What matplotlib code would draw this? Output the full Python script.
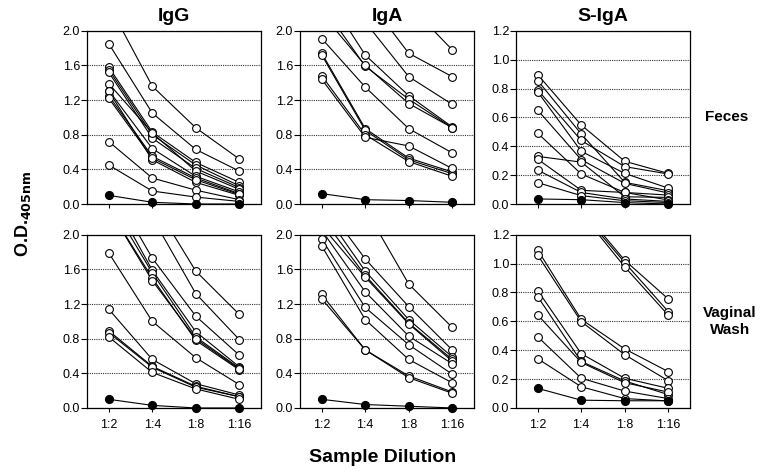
import numpy as np
import matplotlib
matplotlib.use('Agg')
import matplotlib.pyplot as plt

plt.rcParams['font.family'] = ['Liberation Sans', 'DejaVu Sans']

dilutions = ['1:2', '1:4', '1:8', '1:16']
col_titles = ['IgG', 'IgA', 'S-IgA']
row_labels = ['Feces', 'Vaginal\nWash']

# values above the y-limit are lines that start off the top of the panel
igg_feces = [
    [2.30, 1.36, 0.88, 0.52],
    [1.85, 1.05, 0.63, 0.38],
    [1.58, 0.83, 0.48, 0.25],
    [1.55, 0.80, 0.45, 0.21],
    [1.52, 0.76, 0.41, 0.19],
    [1.39, 0.82, 0.38, 0.17],
    [1.31, 0.64, 0.32, 0.14],
    [1.25, 0.55, 0.30, 0.12],
    [1.30, 0.51, 0.25, 0.10],
    [1.22, 0.53, 0.28, 0.11],
    [0.72, 0.30, 0.16, 0.05],
    [0.45, 0.15, 0.08, 0.03],
]
igg_feces_ctrl = [0.10, 0.02, 0.0, 0.0]

iga_feces = [
    [2.50, 1.72, 1.25, 0.89],
    [2.30, 1.59, 1.21, 0.88],
    [1.91, 1.35, 0.87, 0.59],
    [1.74, 0.87, 0.53, 0.37],
    [1.72, 0.85, 0.51, 0.35],
    [1.48, 0.80, 0.49, 0.32],
    [1.44, 0.77, 0.67, 0.41],
    [2.90, 2.40, 1.74, 1.47],
    [3.20, 2.80, 2.30, 1.78],
    [2.70, 2.10, 1.47, 1.15],
    [2.20, 1.60, 1.16, 0.88],
]
iga_feces_ctrl = [0.12, 0.05, 0.04, 0.02]

siga_feces = [
    [0.896, 0.547, 0.296, 0.212],
    [0.855, 0.485, 0.150, 0.092],
    [0.790, 0.440, 0.259, 0.208],
    [0.776, 0.365, 0.212, 0.110],
    [0.650, 0.307, 0.143, 0.076],
    [0.490, 0.208, 0.080, 0.062],
    [0.330, 0.290, 0.050, 0.046],
    [0.310, 0.095, 0.080, 0.028],
    [0.235, 0.080, 0.035, 0.018],
    [0.148, 0.058, 0.023, 0.010],
]
siga_feces_ctrl = [0.035, 0.030, 0.010, 0.0]

igg_vag = [
    [1.79, 1.00, 0.58, 0.27],
    [1.14, 0.56, 0.28, 0.15],
    [0.89, 0.48, 0.25, 0.13],
    [0.87, 0.47, 0.24, 0.13],
    [0.82, 0.41, 0.22, 0.10],
    [2.60, 1.73, 1.06, 0.61],
    [2.50, 1.59, 0.88, 0.475],
    [2.40, 1.56, 0.82, 0.46],
    [2.30, 1.50, 0.78, 0.44],
    [2.30, 1.47, 0.80, 0.45],
    [3.20, 2.40, 1.58, 1.08],
    [3.00, 2.20, 1.32, 0.79],
]
igg_vag_ctrl = [0.10, 0.03, 0.0, 0.0]

iga_vag = [
    [2.80, 2.30, 1.43, 0.93],
    [2.40, 1.72, 1.17, 0.67],
    [2.30, 1.58, 1.02, 0.59],
    [2.20, 1.53, 0.98, 0.56],
    [2.10, 1.51, 0.97, 0.54],
    [2.05, 1.34, 0.83, 0.51],
    [1.95, 1.16, 0.73, 0.39],
    [1.87, 1.02, 0.56, 0.29],
    [1.31, 0.67, 0.37, 0.185],
    [1.26, 0.67, 0.35, 0.17],
]
iga_vag_ctrl = [0.10, 0.04, 0.02, 0.0]

siga_vag = [
    [1.90, 1.38, 1.023, 0.755],
    [1.85, 1.36, 1.007, 0.668],
    [1.80, 1.35, 0.977, 0.643],
    [1.093, 0.614, 0.409, 0.252],
    [1.058, 0.598, 0.369, 0.189],
    [0.813, 0.376, 0.206, 0.136],
    [0.771, 0.322, 0.187, 0.093],
    [0.645, 0.315, 0.175, 0.110],
    [0.493, 0.206, 0.117, 0.065],
    [0.341, 0.147, 0.065, 0.049],
]
siga_vag_ctrl = [0.136, 0.054, 0.050, 0.050]

panels = [
    [(igg_feces, igg_feces_ctrl), (iga_feces, iga_feces_ctrl), (siga_feces, siga_feces_ctrl)],
    [(igg_vag, igg_vag_ctrl), (iga_vag, iga_vag_ctrl), (siga_vag, siga_vag_ctrl)],
]
ymax = [2.0, 2.0, 1.2]
ystep = [0.4, 0.4, 0.2]

fig = plt.figure(figsize=(7.75, 4.76), dpi=100)
lefts = [0.1123, 0.3871, 0.6658]
bottoms = [0.5714, 0.1429]
w, h = 0.2245, 0.364

x = np.arange(1, 5)
for r in range(2):
    for c in range(3):
        ax = fig.add_axes([lefts[c], bottoms[r], w, h])
        series, ctrl = panels[r][c]
        top = ymax[c]
        for s in series:
            s = np.array(s)
            ax.plot(x, s, color='black', lw=0.8, zorder=3)
            # markers only for points inside the panel
            m = s <= top + 0.005
            ax.plot(x[m], s[m], ls='none', marker='o', ms=5.6, mfc='white',
                    mec='black', mew=0.8, zorder=4, clip_on=False)
        ax.plot(x, ctrl, color='black', lw=0.8, marker='o', ms=5.6,
                mfc='black', mec='black', zorder=5, clip_on=False)

        ax.set_xlim(0.5, 4.5)
        ax.set_ylim(0, top)
        ticks = np.arange(0, top + 0.001, ystep[c])
        ax.set_yticks(ticks)
        ax.set_yticklabels(['%.1f' % t for t in ticks])
        ax.set_xticks(x)
        if r == 1:
            ax.set_xticklabels(dilutions)
        else:
            ax.set_xticklabels([])
        ax.grid(axis='y', ls=(0, (1, 1)), color='#333333', lw=0.8, zorder=1)
        ax.tick_params(axis='y', length=4, width=0.8, labelsize=9, pad=1)
        ax.tick_params(axis='x', length=3, width=0.8, labelsize=9, pad=5)
        for sp in ax.spines.values():
            sp.set_linewidth(0.9)
        if r == 0:
            ax.set_title(col_titles[c], fontsize=14, fontweight='bold', pad=7)

fig.text(0.910, 0.754, row_labels[0], fontsize=11, fontweight='bold',
         ha='left', va='center')
fig.text(0.942, 0.325, row_labels[1], fontsize=11, fontweight='bold',
         ha='center', va='center', linespacing=1.3)
fig.text(0.030, 0.55, r'O.D.$_{\mathbf{405nm}}$', fontsize=13, fontweight='bold',
         rotation=90, ha='center', va='center')
fig.text(0.494, 0.038, 'Sample Dilution', fontsize=14, fontweight='bold',
         ha='center', va='center')

fig.savefig('out.png', dpi=100)
